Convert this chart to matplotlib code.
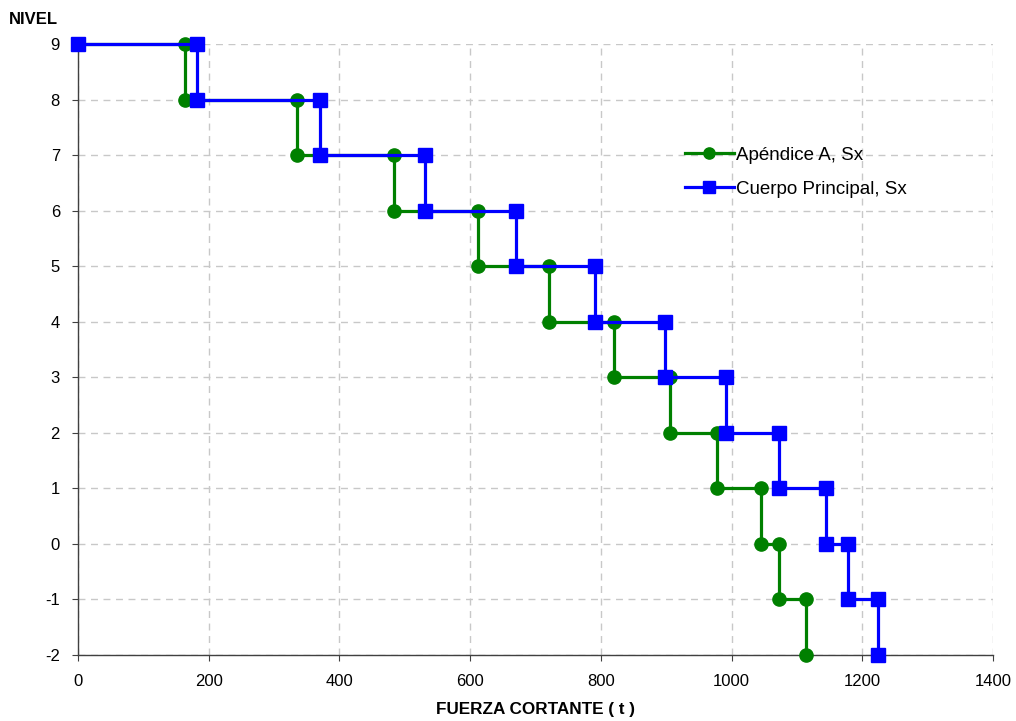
import matplotlib
matplotlib.use("Agg")
import matplotlib.pyplot as plt

plt.rcParams['font.family'] = ['Liberation Sans', 'DejaVu Sans']
plt.rcParams['axes.unicode_minus'] = False

# Data: step polylines (fuerza cortante, nivel)
apendice_x = [0, 164, 164, 335, 335, 483, 483, 612, 612, 721, 721, 820, 820, 906,
              906, 978, 978, 1045, 1045, 1073, 1073, 1114, 1114]
apendice_y = [9, 9, 8, 8, 7, 7, 6, 6, 5, 5, 4, 4, 3, 3,
              2, 2, 1, 1, 0, 0, -1, -1, -2]
cuerpo_x = [0, 182, 182, 370, 370, 531, 531, 670, 670, 791, 791, 898, 898, 991,
            991, 1073, 1073, 1144, 1144, 1178, 1178, 1224, 1224]
cuerpo_y = [9, 9, 8, 8, 7, 7, 6, 6, 5, 5, 4, 4, 3, 3,
            2, 2, 1, 1, 0, 0, -1, -1, -2]
x_ticks = [0, 200, 400, 600, 800, 1000, 1200, 1400]
y_ticks = [9, 8, 7, 6, 5, 4, 3, 2, 1, 0, -1, -2]

fig = plt.figure(figsize=(10.16, 7.21), dpi=100)
ax = fig.add_axes([78/1016, 1-655/721, (993-78)/1016, (655-44)/721])

ax.plot(apendice_x, apendice_y, color='#008000', lw=2.3, marker='o', ms=9.5,
        label='Apéndice A, Sx', zorder=3, clip_on=False)
ax.plot(cuerpo_x, cuerpo_y, color='#0000FF', lw=2.3, marker='s', ms=9.5,
        label='Cuerpo Principal, Sx', zorder=4, clip_on=False)

ax.set_xlim(0, 1400)
ax.set_ylim(-2, 9)
ax.set_xticks(x_ticks)
ax.set_yticks(y_ticks)
ax.grid(True, color='#C8C8C8', linestyle=(0, (5, 4)), lw=1)
ax.set_axisbelow(True)
for s in ['top', 'right']:
    ax.spines[s].set_visible(False)
for s in ['left', 'bottom']:
    ax.spines[s].set_color('#404040')
    ax.spines[s].set_linewidth(1)
ax.tick_params(direction='out', length=4, labelsize=12, colors='#404040',
               labelcolor='black')
ax.tick_params(axis='x', pad=10)
ax.tick_params(axis='y', pad=9)

ax.set_xlabel('FUERZA CORTANTE ( t )', fontsize=12.3, fontweight='bold', labelpad=9)
fig.text(9/1016, 1-20/721, 'NIVEL', fontsize=12, fontweight='bold', va='center', ha='left')

leg = ax.legend(loc='upper left', bbox_to_anchor=((668-78)/915, 1-(130-44)/611),
                frameon=False, fontsize=13.5, handlelength=2.6, labelspacing=0.9,
                handletextpad=0.1, markerscale=0.85)

fig.savefig('out.png', dpi=100)
